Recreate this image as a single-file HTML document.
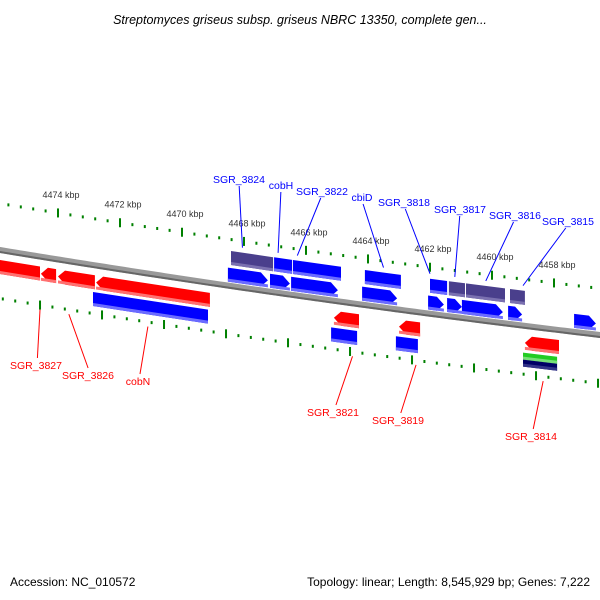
<!DOCTYPE html>
<html><head><meta charset="utf-8"><style>
html,body{margin:0;padding:0;background:#fff;}
svg{display:block;font-family:"Liberation Sans",sans-serif;}
</style></head><body>
<svg id="chart" width="600" height="600" viewBox="0 0 600 600">
<text x="300" y="24" text-anchor="middle" font-size="12.5" font-style="italic" fill="#000">Streptomyces griseus subsp. griseus NBRC 13350, complete gen...</text>
<text x="10" y="586" font-size="12" fill="#000">Accession: NC_010572</text>
<text x="590" y="586" font-size="12" text-anchor="end" fill="#000">Topology: linear; Length: 8,545,929 bp; Genes: 7,222</text>
<g id="layer"></g>
</svg>
<script>
// ---- data (kbp positions) ----
const upperTickKbp = [4476, 4474, 4472, 4470, 4468, 4466, 4464, 4462, 4460, 4458, 4456];
const upperTickLabels = ["", "4474 kbp", "4472 kbp", "4470 kbp", "4468 kbp", "4466 kbp", "4464 kbp", "4462 kbp", "4460 kbp", "4458 kbp", ""];
const lowerTickKbp = [4476.58, 4474.58, 4472.58, 4470.58, 4468.58, 4466.58, 4464.58, 4462.58, 4460.58, 4458.58, 4456.58];
// row: 'u1' upper row 1, 'u2' upper row 2, 'l1' lower row 1, 'l2' lower row 2
const geneStart = [4468.42,4467.03,4466.42,4464.10,4462.00,4461.39,4460.84,4459.42, 4468.52,4467.16,4466.48,4464.19,4462.06,4461.45,4460.97,4459.48,4457.35, 4476.0,4474.55,4474.00,4472.77,4465.10,4463.00,4458.94, 4472.87,4465.19,4463.10,4459.00,4459.00];
const geneEnd   = [4467.06,4466.45,4464.87,4462.94,4461.45,4460.87,4459.58,4458.94, 4467.23,4466.52,4464.97,4463.06,4461.55,4460.97,4459.65,4459.03,4456.65, 4474.58,4474.06,4472.81,4469.10,4464.29,4462.32,4457.84, 4469.16,4464.35,4462.39,4457.90,4457.90];
const geneRow   = ['u1','u1','u1','u1','u1','u1','u1','u1', 'u2','u2','u2','u2','u2','u2','u2','u2','u2', 'l1','l1','l1','l1','l1','l1','l1', 'l2','l2','l2','g','n'];
const geneKind  = ['purple','blue','blue','blue','blue','purple','purple','purple', 'blueR','blueR','blueR','blueR','blueR','blueR','blueR','blueR','blueR', 'redF','redL','redL','redL','redL','redL','redL', 'blue','blue','blue','green','navy'];
const upperLabels = ["SGR_3824","cobH","SGR_3822","cbiD","SGR_3818","SGR_3817","SGR_3816","SGR_3815"];
const upperLabelKbp = [4468.05,4466.9,4466.28,4463.5,4462.0,4461.2,4460.2,4459.0];
const lowerLabels = ["SGR_3827","SGR_3826","cobN","SGR_3821","SGR_3819","SGR_3814"];
const lowerLabelKbp = [4474.58,4473.65,4471.1,4464.5,4462.45,4458.35];

// ---- axis functions ----
function xOf(k){ return 58 + (4474 - k) * 31; }
function base(x){ return 250 + 0.165*x - 3.9e-5*x*x; }
const rows = {u1:[-35,-21], u2:[-18,-4], l1:[10,24], l2:[27,41], g:[27,34], n:[34,41]};
const colors = {purple:['#4a3f8c','#7a70b0'], blue:['#0000ff','#6b6bff'], blueR:['#0000ff','#6b6bff'], redF:['#ff0000','#ff7070'], redL:['#ff0000','#ff7070'], green:['#22cc22','#77e077'], navy:['#000066','#333388']};
const NS = 'http://www.w3.org/2000/svg';
const layer = document.getElementById('layer');
function mk(tag, attrs){ const e=document.createElementNS(NS,tag); for(const k in attrs) e.setAttribute(k,attrs[k]); layer.appendChild(e); return e; }

// backbone
let d='';
for(let x=-5;x<=605;x+=5){ d += (x===-5?'M':'L') + x + ',' + base(x).toFixed(2) + ' '; }
const bb = mk('path',{d:d,fill:'none',stroke:'#999',"stroke-width":6});


const bb2 = mk('path',{d:d,fill:'none',stroke:'#666',"stroke-width":2,transform:'translate(0,2)'});



// ticks
function drawTicks(kbps, dy, labels, nm){
  kbps.forEach((k,i)=>{
    const x=xOf(k), y=base(x)+dy;
    const t = mk('rect',{x:x-1,y:y-4.5,width:2,height:9,fill:'#008000'});
    
    
    for(let j=1;j<5;j++){
      const xx = xOf(k - j*0.4), yy = base(xx)+dy;
      const m = mk('rect',{x:xx-1,y:yy-1.5,width:2,height:3,fill:'#008000'});
      
      
    }
    if(labels && labels[i]){
      const tx = mk('text',{x:x+3,y:y-15,"font-size":9,"text-anchor":"middle",fill:'#333'});
      tx.textContent = labels[i];
      
      
    }
  });
}
drawTicks(upperTickKbp, -46.5, upperTickLabels, 'upper');
drawTicks(lowerTickKbp, 48.5, null, 'lower');

// genes
function ptsFor(x1,x2,t,b,kind){
  const y1t=base(x1)+t, y1b=base(x1)+b, y2t=base(x2)+t, y2b=base(x2)+b;
  const h=7;
  if(kind==='blueR'){
    const xm=Math.max(x1,x2-h), ym=base(xm);
    return [[x1,y1t],[xm,ym+t],[x2,(base(x2)+(t+b)/2)],[xm,ym+b],[x1,y1b]];
  }
  if(kind==='redL'){
    const xm=Math.min(x2,x1+h), ym=base(xm);
    return [[x1,base(x1)+(t+b)/2],[xm,ym+t],[x2,y2t],[x2,y2b],[xm,ym+b]];
  }
  return [[x1,y1t],[x2,y2t],[x2,y2b],[x1,y1b]];
}
geneStart.forEach((s,i)=>{
  const x1=xOf(s), x2=xOf(geneEnd[i]);
  const r=rows[geneRow[i]], kind=geneKind[i], c=colors[kind];
  const p=ptsFor(x1,x2,r[0],r[1],kind).map(q=>q[0].toFixed(1)+','+q[1].toFixed(1)).join(' ');
  const g = mk('polygon',{points:p,fill:c[0]});
  
  
  const sh = ptsFor(x1,x2,r[1]-3,r[1],kind==='blueR'||kind==='redL'?'box':kind).map(q=>q[0].toFixed(1)+','+q[1].toFixed(1)).join(' ');
  const g2 = mk('polygon',{points:sh,fill:c[1]});
  
  
});

// labels
upperLabels.forEach((n,i)=>{
  const gx=xOf(upperLabelKbp[i]), gy=base(gx)-40;
  const lx=[239,281,322,362,404,460,515,568][0]; // placeholder unused
});
const upperLabelPos=[[239,183],[281,189],[322,195],[362,201],[404,206],[460,213],[515,219],[568,225]];
upperLabels.forEach((n,i)=>{
  const gx=xOf(upperLabelKbp[i]), gy=base(gx)-40;
  const [lx,ly]=upperLabelPos[i];
  const l = mk('line',{x1:lx+(gx-lx)*0.05,y1:ly+3,x2:gx,y2:gy,stroke:'#0000ff',"stroke-width":1});
  
  
  const t = mk('text',{x:lx,y:ly,"font-size":10.5,"text-anchor":"middle",fill:'#0000ff'});
  t.textContent=n;
  
  
});
const lowerLabelPos=[[36,369],[88,379],[138,385],[333,416],[398,424],[531,440]];
lowerLabels.forEach((n,i)=>{
  const gx=xOf(lowerLabelKbp[i]), gy=base(gx)+53;
  const [lx,ly]=lowerLabelPos[i];
  const l = mk('line',{x1:gx,y1:gy,x2:lx+(gx-lx)*0.1+ (i===1?2:1),y2:ly-11,stroke:'#ff0000',"stroke-width":1});
  
  
  const t = mk('text',{x:lx,y:ly,"font-size":10.5,"text-anchor":"middle",fill:'#ff0000'});
  t.textContent=n;
  
  
});
</script>
</body></html>
